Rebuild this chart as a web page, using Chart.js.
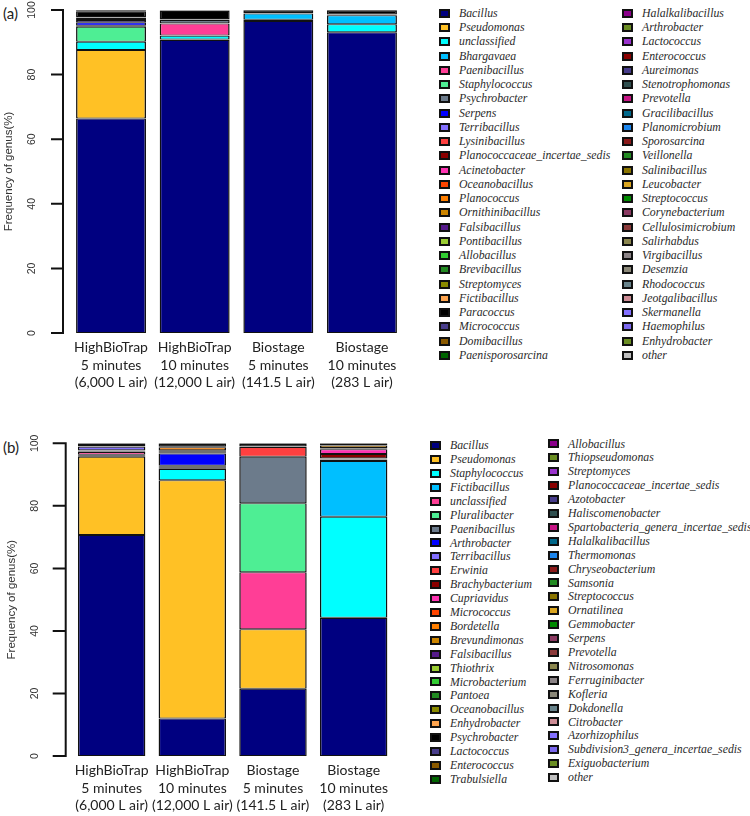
<!DOCTYPE html>
<html>
<head>
<meta charset="utf-8">
<script src="https://cdn.jsdelivr.net/npm/chart.js"></script>
<style>
  body { margin: 0; background: #fff; width: 750px; height: 816px; position: relative; overflow: hidden; }
  canvas { position: absolute; left: 0; }
  .tag { position: absolute; left: 3px; font-family: Lato, sans-serif; font-size: 15px; color: #222; }
  .leg { position: absolute; white-space: nowrap; display: flex; align-items: center;
         font-family: "Liberation Serif", "Times New Roman", Times, serif;
         font-style: italic; font-size: 11.8px; color: #2b2b2b; }
  .sw { width: 11px; height: 9px; border: 2px solid #111; box-sizing: border-box; flex: none; }
</style>
</head>
<body>
<div class="tag" style="top:4px">(a)</div>
<div class="tag" style="top:438px">(b)</div>
<canvas id="chartA" width="420" height="400" style="top:0"></canvas>
<canvas id="chartB" width="420" height="416" style="top:400px"></canvas>
<div id="legendA"></div>
<div id="legendB"></div>

<script>
// samples (x axis)
var sampleLabels = [
    ['HighBioTrap', '5 minutes', '(6,000 L air)'],
    ['HighBioTrap', '10 minutes', '(12,000 L air)'],
    ['Biostage', '5 minutes', '(141.5 L air)'],
    ['Biostage', '10 minutes', '(283 L air)']
];
var yTickValues = [0, 20, 40, 60, 80, 100];
var yTitle = 'Frequency of genus(%)';

// (a) genera, bottom of the stack first
var generaA = [
    'Bacillus', 'Pseudomonas', 'unclassified', 'Bhargavaea', 'Paenibacillus',
    'Staphylococcus', 'Psychrobacter', 'Serpens', 'Terribacillus', 'Lysinibacillus',
    'Planococcaceae_incertae_sedis', 'Acinetobacter', 'Oceanobacillus', 'Planococcus', 'Ornithinibacillus',
    'Falsibacillus', 'Pontibacillus', 'Allobacillus', 'Brevibacillus', 'Streptomyces',
    'Fictibacillus', 'Paracoccus', 'Micrococcus', 'Domibacillus', 'Paenisporosarcina',
    'Halalkalibacillus', 'Arthrobacter', 'Lactococcus', 'Enterococcus', 'Aureimonas',
    'Stenotrophomonas', 'Prevotella', 'Gracilibacillus', 'Planomicrobium', 'Sporosarcina',
    'Veillonella', 'Salinibacillus', 'Leucobacter', 'Streptococcus', 'Corynebacterium',
    'Cellulosimicrobium', 'Salirhabdus', 'Virgibacillus', 'Desemzia', 'Rhodococcus',
    'Jeotgalibacillus', 'Skermanella', 'Haemophilus', 'Enhydrobacter', 'other'
];
// (a) % per genus, same order as generaA
var hbt5A = [
    66.4, 21.2, 2.6, 0, 0, 4.6, 0.3, 1.1, 0.7, 0.3,
    0.3, 0.1, 0.1, 0.1, 0, 0, 0, 0, 0, 0,
    0, 1.8, 0, 0, 0, 0, 0, 0, 0, 0,
    0, 0, 0, 0, 0, 0, 0, 0, 0, 0,
    0, 0, 0, 0, 0, 0, 0, 0.1, 0.1, 0.2
];
var hbt10A = [
    90.7, 0.2, 1.1, 0.1, 3.7, 0.1, 1.0, 0.1, 0.1, 0.1,
    0, 0, 0, 0, 0, 0, 0, 0, 0, 0,
    0, 2.5, 0, 0, 0, 0, 0, 0, 0, 0,
    0.1, 0, 0, 0, 0, 0, 0, 0, 0, 0,
    0, 0, 0, 0, 0.1, 0, 0, 0, 0, 0.1
];
var bio5A = [
    96.6, 0, 0.4, 1.9, 0.1, 0, 0.1, 0, 0, 0,
    0, 0, 0, 0, 0, 0, 0, 0, 0, 0,
    0, 0.7, 0, 0, 0, 0, 0, 0, 0, 0,
    0, 0, 0, 0, 0, 0, 0, 0, 0, 0,
    0, 0, 0, 0, 0, 0, 0, 0, 0, 0.2
];
var bio10A = [
    93.1, 0, 2.5, 2.8, 0.1, 0.1, 0, 0, 0, 0,
    0, 0, 0, 0, 0, 0, 0, 0, 0, 0,
    0, 1.2, 0, 0, 0, 0, 0, 0, 0, 0,
    0, 0, 0, 0, 0, 0, 0, 0, 0, 0,
    0, 0, 0, 0, 0, 0, 0, 0, 0, 0.2
];

// (b) genera
var generaB = [
    'Bacillus', 'Pseudomonas', 'Staphylococcus', 'Fictibacillus', 'unclassified',
    'Pluralibacter', 'Paenibacillus', 'Arthrobacter', 'Terribacillus', 'Erwinia',
    'Brachybacterium', 'Cupriavidus', 'Micrococcus', 'Bordetella', 'Brevundimonas',
    'Falsibacillus', 'Thiothrix', 'Microbacterium', 'Pantoea', 'Oceanobacillus',
    'Enhydrobacter', 'Psychrobacter', 'Lactococcus', 'Enterococcus', 'Trabulsiella',
    'Allobacillus', 'Thiopseudomonas', 'Streptomyces', 'Planococcaceae_incertae_sedis', 'Azotobacter',
    'Haliscomenobacter', 'Spartobacteria_genera_incertae_sedis', 'Halalkalibacillus', 'Thermomonas', 'Chryseobacterium',
    'Samsonia', 'Streptococcus', 'Ornatilinea', 'Gemmobacter', 'Serpens',
    'Prevotella', 'Nitrosomonas', 'Ferruginibacter', 'Kofleria', 'Dokdonella',
    'Citrobacter', 'Azorhizophilus', 'Subdivision3_genera_incertae_sedis', 'Exiguobacterium', 'other'
];
var hbt5B = [
    70.7, 25.0, 0.3, 0.3, 0.9, 0.2, 0.2, 0.2, 1.1, 0.1,
    0.1, 0, 0, 0, 0, 0, 0, 0, 0, 0,
    0, 0.7, 0, 0, 0, 0, 0, 0, 0, 0,
    0, 0, 0, 0, 0, 0, 0, 0, 0, 0,
    0, 0, 0, 0, 0, 0, 0, 0, 0, 0.2
];
var hbt10B = [
    12.0, 76.2, 3.6, 0.2, 0.2, 0.3, 0.3, 3.9, 0.2, 0.2,
    0.1, 0.1, 0.5, 0.9, 0.1, 0.1, 0, 0, 0, 0,
    0, 0.9, 0, 0, 0, 0, 0, 0, 0, 0,
    0, 0, 0, 0, 0, 0, 0, 0, 0, 0,
    0, 0, 0, 0, 0, 0, 0, 0, 0, 0.2
];
var bio5B = [
    21.5, 19.0, 0, 0, 18.3, 22.0, 14.9, 0, 0, 3.1,
    0.1, 0.1, 0, 0, 0, 0, 0, 0, 0, 0,
    0, 0.8, 0, 0, 0, 0, 0, 0, 0, 0,
    0, 0, 0, 0, 0, 0, 0, 0, 0, 0,
    0, 0, 0, 0, 0, 0, 0, 0, 0, 0.2
];
var bio10B = [
    44.1, 0.1, 32.3, 17.8, 0.5, 0.1, 0.1, 0.1, 0, 0.1,
    1.4, 1.5, 0.2, 0.2, 0.8, 0, 0, 0, 0, 0,
    0, 0.5, 0, 0, 0, 0, 0, 0, 0, 0,
    0, 0, 0, 0, 0, 0, 0, 0, 0, 0,
    0, 0, 0, 0, 0, 0, 0, 0, 0, 0.2
];

// same colour sequence in both panels (by legend position)
var genusColors = [
    '#000080', '#FFC125', '#00FFFF', '#00BFFF', '#FF3E96',
    '#4EEE94', '#6C7B8B', '#0000FF', '#8470FF', '#FF4040',
    '#8B0000', '#FF34B3', '#FF4500', '#FF7F00', '#CD8500',
    '#551A8B', '#9ACD32', '#32CD32', '#228B22', '#8B8B00',
    '#FFA54F', '#000000', '#483D8B', '#8B5A00', '#006400',
    '#8B008B', '#6B8E23', '#9A32CD', '#8B0000', '#473C8B',
    '#2F4F4F', '#C71585', '#00688B', '#1C86EE', '#8B1A1A',
    '#228B22', '#8B7500', '#DAA520', '#008B00', '#8B3A62',
    '#8B3A3A', '#8B864E', '#8B8386', '#8B8878', '#68838B',
    '#CD8C95', '#8470FF', '#7B68EE', '#6B8E23', '#BEBEBE'
];

// R style y axis, drawn off the y scale
var rAxis = {
    id: 'rAxis',
    afterDraw: function (chart, args, o) {
        var ctx = chart.ctx;
        var y = chart.scales.y;
        ctx.save();
        ctx.strokeStyle = '#111';
        ctx.lineWidth = 2;
        ctx.lineCap = 'square';
        ctx.beginPath();
        ctx.moveTo(o.axisX, y.getPixelForValue(yTickValues[0]));
        ctx.lineTo(o.axisX, y.getPixelForValue(yTickValues[yTickValues.length - 1]));
        yTickValues.forEach(function (t) {
            var py = y.getPixelForValue(t);
            ctx.moveTo(o.axisX, py);
            ctx.lineTo(o.axisX - o.tickLen, py);
        });
        ctx.stroke();

        ctx.fillStyle = '#333';
        ctx.textAlign = 'center';
        ctx.textBaseline = 'middle';
        ctx.font = '10.5px "Liberation Sans", Arial, sans-serif';
        yTickValues.forEach(function (t) {
            ctx.save();
            ctx.translate(o.labelX, y.getPixelForValue(t));
            ctx.rotate(-Math.PI / 2);
            ctx.fillText(String(t), 0, 0);
            ctx.restore();
        });
        ctx.font = '11.5px "Liberation Sans", Arial, sans-serif';
        ctx.translate(o.titleX, (y.top + y.bottom) / 2);
        ctx.rotate(-Math.PI / 2);
        ctx.fillText(yTitle, 0, 0);
        ctx.restore();
    }
};

function makePanel(canvasId, legendId, genera, samples, lay) {
    var datasets = genera.map(function (g, i) {
        return {
            label: g,
            data: samples.map(function (s) { return s[i]; }),
            backgroundColor: genusColors[i],
            borderColor: '#111',
            borderWidth: { left: 1.5, right: 1.5, top: 1, bottom: 1 },
            borderSkipped: false,
            categoryPercentage: 1,
            barPercentage: 0.836
        };
    });

    var chart = new Chart(document.getElementById(canvasId), {
        type: 'bar',
        data: { labels: sampleLabels, datasets: datasets },
        plugins: [rAxis],
        options: {
            responsive: false,
            animation: false,
            layout: { padding: lay.padding },
            plugins: {
                legend: { display: false },
                tooltip: { enabled: false },
                rAxis: lay.axis
            },
            scales: {
                x: {
                    stacked: true,
                    grid: { display: false, drawTicks: false },
                    border: { display: false },
                    ticks: {
                        color: '#222',
                        padding: 6,
                        maxRotation: 0,
                        autoSkip: false,
                        font: { family: 'Lato', size: 14, lineHeight: 1.25 }
                    },
                    afterFit: function (scale) { scale.height = 57; }
                },
                y: { stacked: true, display: false, min: 0, max: 100 }
            }
        }
    });

    // two column legend, 25 rows each
    var box = document.getElementById(legendId);
    chart.data.datasets.forEach(function (ds, i) {
        var col = i < 25 ? 0 : 1;
        var row = i % 25;
        var item = document.createElement('div');
        item.className = 'leg';
        item.style.left = lay.legX[col] + 'px';
        item.style.top = (lay.legY[col] + row * lay.legStep - lay.legStep / 2) + 'px';
        item.style.height = lay.legStep + 'px';
        var sw = document.createElement('span');
        sw.className = 'sw';
        sw.style.background = ds.backgroundColor;
        sw.style.marginRight = lay.gap + 'px';
        var txt = document.createElement('span');
        txt.textContent = ds.label;
        item.appendChild(sw);
        item.appendChild(txt);
        box.appendChild(item);
    });
    return chart;
}

makePanel('chartA', 'legendA', generaA, [hbt5A, hbt10A, bio5A, bio10A], {
    padding: { left: 69.2, right: 16.2, top: 10, bottom: 10 },
    axis: { axisX: 63, tickLen: 11, labelX: 32, titleX: 9 },
    legX: [439, 622], legY: [13.3, 13.3], legStep: 14.25, gap: 9
});

makePanel('chartB', 'legendB', generaB, [hbt5B, hbt10B, bio5B, bio10B], {
    padding: { left: 71.3, right: 26, top: 43.3, bottom: 3 },
    axis: { axisX: 65.7, tickLen: 12, labelX: 35, titleX: 12 },
    legX: [430, 548], legY: [445.7, 444], legStep: 13.9, gap: 9
});
</script>
</body>
</html>
